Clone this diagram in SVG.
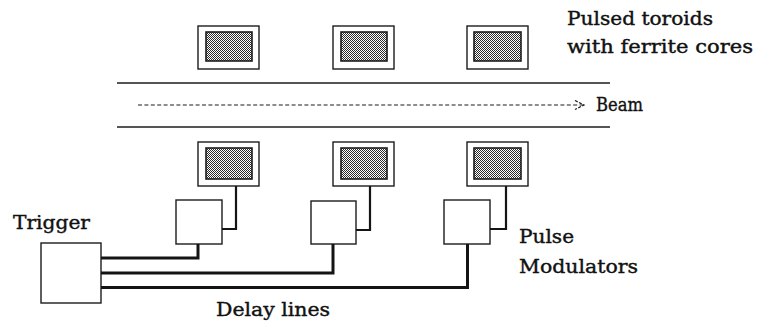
<svg xmlns="http://www.w3.org/2000/svg" width="757" height="326" viewBox="0 0 757 326">
  <style>
    .lbl { font-family: "DejaVu Serif", "Liberation Serif", serif; font-size: 19px; fill: #111111; stroke: #111111; stroke-width: 0.4; }
    .frame { fill: #ffffff; stroke: #1c1c1c; stroke-width: 1.4; }
    .core { fill: url(#stipple); stroke: #1c1c1c; stroke-width: 1.6; }
    .box { fill: #ffffff; stroke: #1c1c1c; stroke-width: 1.4; }
    .pipe { fill: none; stroke: #1c1c1c; stroke-width: 1.5; }
    .wire { fill: none; stroke: #141414; stroke-width: 2.2; stroke-linejoin: miter; }
    .delay { fill: none; stroke: #141414; stroke-width: 3; stroke-linejoin: miter; }
    .beam { fill: none; stroke: #1c1c1c; stroke-width: 1.2; stroke-dasharray: 4 2.4; }
  </style>
  <defs>
    <!-- fine dither used for the ferrite cores -->
    <pattern id="stipple" width="2" height="2" patternUnits="userSpaceOnUse">
      <rect width="2" height="2" fill="#ffffff"/>
      <rect x="0" y="0" width="1" height="1" fill="#2a2a2a"/>
      <rect x="1" y="1" width="1" height="1" fill="#2a2a2a"/>
    </pattern>
  </defs>

  <!-- beam pipe walls and beam direction -->
  <g id="beam-pipe">
    <line class="pipe" x1="117" y1="83" x2="610" y2="83"/>
    <line class="pipe" x1="117" y1="127" x2="610" y2="127"/>
    <line class="beam" x1="138" y1="105" x2="583" y2="105"/>
    <polyline class="beam" points="575,100.5 584,105 575,109.5" style="stroke-dasharray:3 1.5"/>
  </g>

  <!-- toroids above the beam -->
  <g id="toroid-top-1"><rect class="frame" x="198" y="26" width="61" height="43"/><rect class="core" x="206" y="32" width="46" height="29"/></g>
  <g id="toroid-top-2"><rect class="frame" x="333" y="26" width="61" height="43"/><rect class="core" x="341" y="32" width="46" height="29"/></g>
  <g id="toroid-top-3"><rect class="frame" x="467" y="26" width="61" height="43"/><rect class="core" x="474" y="32" width="47" height="29"/></g>

  <!-- toroids below the beam -->
  <g id="toroid-bot-1"><rect class="frame" x="198" y="142" width="61" height="44"/><rect class="core" x="206" y="148" width="46" height="31"/></g>
  <g id="toroid-bot-2"><rect class="frame" x="333" y="142" width="61" height="44"/><rect class="core" x="341" y="148" width="46" height="31"/></g>
  <g id="toroid-bot-3"><rect class="frame" x="467" y="142" width="61" height="44"/><rect class="core" x="474" y="148" width="47" height="31"/></g>

  <!-- pulse modulators -->
  <g id="modulator-1"><rect class="box" x="176" y="200" width="46" height="44"/></g>
  <g id="modulator-2"><rect class="box" x="311" y="201" width="45" height="43"/></g>
  <g id="modulator-3"><rect class="box" x="444" y="200" width="46" height="44"/></g>

  <!-- trigger unit -->
  <g id="trigger"><rect class="box" x="41" y="243" width="60" height="60"/></g>

  <g id="connectors">
    <!-- modulator outputs to toroids -->
    <polyline class="wire" points="236,186 236,229 222,229"/>
    <polyline class="wire" points="370,186 370,230 356,230"/>
    <polyline class="wire" points="506,186 506,229 490,229"/>
    <!-- delay lines from the trigger -->
    <polyline class="delay" points="101,258 198,258 198,244"/>
    <polyline class="delay" points="101,273 333,273 333,244"/>
    <polyline class="delay" points="101,287.5 467.5,287.5 467.5,244"/>
  </g>

  <g id="labels">
    <text class="lbl" x="567" y="25" textLength="146" lengthAdjust="spacingAndGlyphs">Pulsed toroids</text>
    <text class="lbl" x="567" y="53" textLength="186" lengthAdjust="spacingAndGlyphs">with ferrite cores</text>
    <text class="lbl" x="596" y="111" textLength="47" lengthAdjust="spacingAndGlyphs">Beam</text>
    <text class="lbl" x="13" y="229" textLength="77" lengthAdjust="spacingAndGlyphs">Trigger</text>
    <text class="lbl" x="519" y="243" textLength="55" lengthAdjust="spacingAndGlyphs">Pulse</text>
    <text class="lbl" x="519" y="273" textLength="119" lengthAdjust="spacingAndGlyphs">Modulators</text>
    <text class="lbl" x="216" y="316" textLength="114" lengthAdjust="spacingAndGlyphs">Delay lines</text>
  </g>
</svg>
